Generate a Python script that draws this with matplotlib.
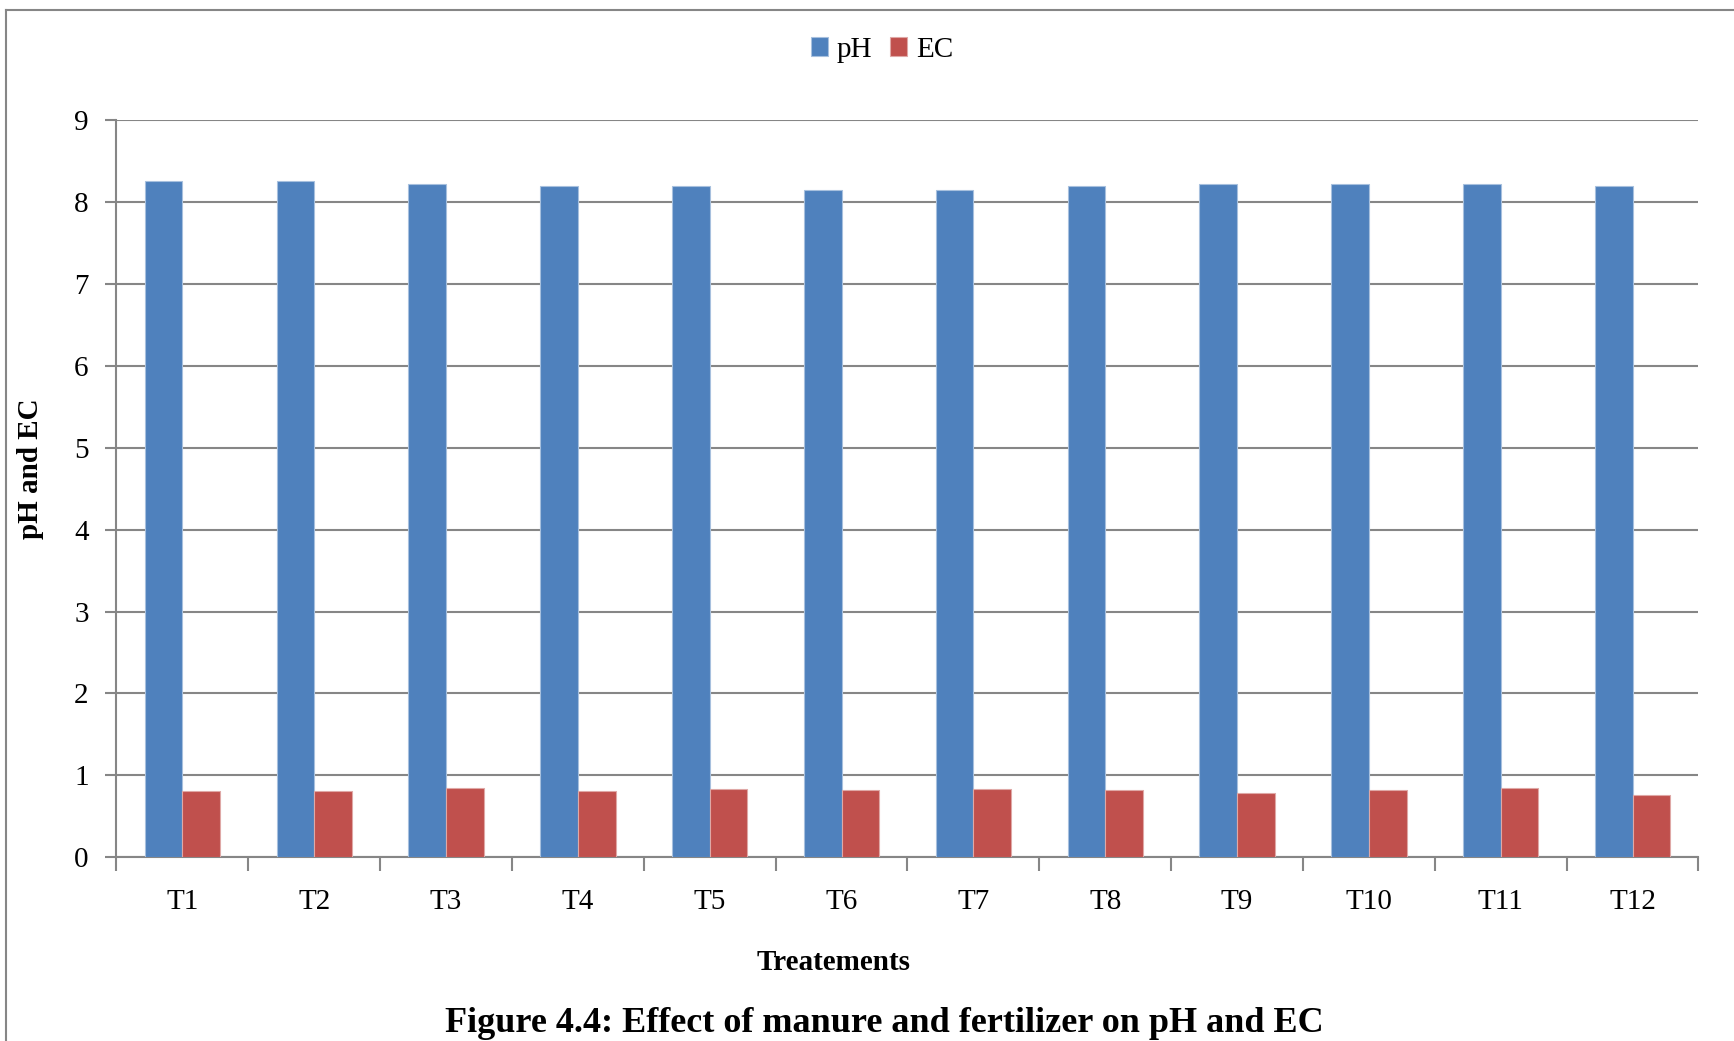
import matplotlib.pyplot as plt
import numpy as np

plt.rcParams['font.family'] = ['Liberation Serif', 'DejaVu Serif']

treatments = ['T1', 'T2', 'T3', 'T4', 'T5', 'T6', 'T7', 'T8', 'T9', 'T10', 'T11', 'T12']
ph = [8.26, 8.26, 8.22, 8.20, 8.19, 8.15, 8.15, 8.20, 8.22, 8.22, 8.22, 8.19]
ec = [0.81, 0.81, 0.84, 0.81, 0.83, 0.82, 0.83, 0.82, 0.78, 0.82, 0.84, 0.76]

W, H = 1734, 1041
fig = plt.figure(figsize=(W / 100, H / 100), dpi=100)
ax = fig.add_axes([116.5 / W, 1 - 857.3 / H, (1698.5 - 116.5) / W, (857.3 - 120) / H])

grey = '#868686'
x = np.arange(len(treatments))
bw = 1 / 3.5  # gap width 150%
ax.bar(x - bw / 2, ph, bw, color='#4F81BD', edgecolor='#A7C0DE', linewidth=0.8, label='pH', zorder=3)
ax.bar(x + bw / 2, ec, bw, color='#C0504D', edgecolor='#DFA8A6', linewidth=0.8, label='EC', zorder=3)

ax.set_xlim(-0.5, len(treatments) - 0.5)
ax.set_ylim(0, 9)
ax.set_yticks(range(10))
ax.yaxis.grid(True, color=grey, linewidth=1.5, zorder=0)

# category labels centred, tick marks between categories
ax.set_xticks(x)
ax.set_xticklabels(treatments)
ax.set_xticks(np.arange(-0.5, len(treatments)), minor=True)
ax.tick_params(axis='x', which='major', length=0, pad=23, labelsize=21)
ax.tick_params(axis='x', which='minor', length=10, width=1.5, color=grey, direction='out')
ax.tick_params(axis='y', length=8, width=1.5, color=grey, pad=12, labelsize=21)

for side in ['top', 'right']:
    ax.spines[side].set_visible(False)
for side in ['left', 'bottom']:
    ax.spines[side].set_color(grey)
    ax.spines[side].set_linewidth(1.5)

fig.text(31 / W, 1 - 469 / H, 'pH and EC', rotation=90, ha='center', va='center',
         fontsize=21, fontweight='bold')

fig.legend(loc='center', bbox_to_anchor=(882 / W, 1 - 50 / H), ncol=2, frameon=False,
           fontsize=21, handlelength=0.6, handleheight=0.6, handletextpad=0.3, columnspacing=0.6)

fig.text(834 / W, 1 - 962 / H, 'Treatements', ha='center', va='center',
         fontsize=21, fontweight='bold')
fig.text(884 / W, 1 - 1023 / H, 'Figure 4.4: Effect of manure and fertilizer on pH and EC',
         ha='center', va='center', fontsize=26, fontweight='bold')

# chart frame (left and top edges)
fig.add_artist(plt.Line2D([5.5 / W, 5.5 / W], [0, 1 - 10 / H], color=grey, linewidth=1.5))
fig.add_artist(plt.Line2D([5.5 / W, 1], [1 - 10 / H, 1 - 10 / H], color=grey, linewidth=1.5))

fig.savefig('out.png', dpi=100)
